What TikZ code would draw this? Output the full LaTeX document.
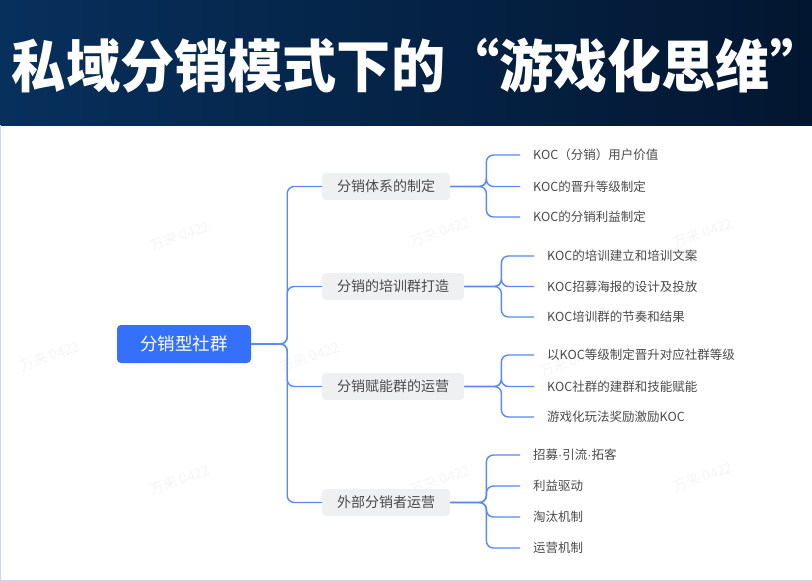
\documentclass[tikz,border=0pt]{standalone}
\usepackage{fontspec}
\setmainfont{Noto Sans CJK SC}
\newfontfamily\latinfont{Liberation Sans}
\usepackage{tikz}
\usetikzlibrary{calc}
\usetikzlibrary{positioning}

\definecolor{hdrA}{HTML}{07305C}
\definecolor{hdrB}{HTML}{031630}
\definecolor{rootblue}{HTML}{3470FA}
\definecolor{linkblue}{HTML}{5889F5}
\definecolor{topicgray}{HTML}{EEF0F2}
\definecolor{txtgray}{HTML}{4A4A4A}
\definecolor{edgeblue}{HTML}{C9DAF3}

\tikzset{
  rootbox/.style={fill=rootblue,text=white,rounded corners=4pt,minimum width=134pt,minimum height=38pt,font=\fontsize{17.5}{20}\selectfont},
  topicbox/.style={fill=topicgray,text=txtgray,rounded corners=4pt,minimum height=27pt,inner xsep=15pt,font=\fontsize{14}{16}\selectfont},
  leaf/.style={anchor=west,inner sep=0pt,text=txtgray,font=\fontsize{12.5}{14}\selectfont},
  link/.style={draw=linkblue,line width=1.4pt,rounded corners=7pt},
  wmark/.style={text=black!4,rotate=20,font=\fontsize{14}{16}\selectfont}
}

\begin{document}
\begin{tikzpicture}[x=1pt,y=-1pt]
  \useasboundingbox (0,0) rectangle (812,581);
  % header band
  \shade[left color=hdrA,right color=hdrB] (0,0) rectangle (812,125);
  \node[text=white,inner sep=0pt,xscale=0.95,font=\bfseries\fontsize{57}{60}\selectfont] (title) at (410,66) {私域分销模式下的“游戏化思维”\kern-0.3em};
  \draw[edgeblue,line width=1pt] (0.5,125) -- (0.5,580.5) -- (811.5,580.5);

  % watermarks
  \foreach \wx/\wy in {180/236,440/232,703/233,50/356,310/357,570/362,180/480,440/480,703/477}
    \node[wmark] at (\wx,\wy) {万来 0422};

  % root and topics
  \node[rootbox] (root) at (184,344) {分销型社群};
  \node[topicbox,anchor=west] (tx) at (322,186.5) {分销体系的制定};
  \node[topicbox,anchor=west] (px) at (322,286.5) {分销的培训群打造};
  \node[topicbox,anchor=west] (fn) at (322,386.5) {分销赋能群的运营};
  \node[topicbox,anchor=west] (wb) at (322,502.5) {外部分销者运营};

  \foreach \t in {tx,px,fn,wb}
    \draw[link] (root.east) -- ++(36,0) |- (\t.west);

  % leaves of each topic
  \node[leaf] (tx1) at (533,155) {KOC（分销）用户价值};
  \node[leaf] (tx2) at (533,186.5) {KOC的晋升等级制定};
  \node[leaf] (tx3) at (533,217) {KOC的分销利益制定};

  \node[leaf] (px1) at (547,256) {KOC的培训建立和培训文案};
  \node[leaf] (px2) at (547,286.5) {KOC招募海报的设计及投放};
  \node[leaf] (px3) at (547,317) {KOC培训群的节奏和结果};

  \node[leaf] (fn1) at (547,355) {以KOC等级制定晋升对应社群等级};
  \node[leaf] (fn2) at (547,386.5) {KOC社群的建群和技能赋能};
  \node[leaf] (fn3) at (547,417) {游戏化玩法奖励激励KOC};

  \node[leaf] (wb1) at (533,455) {招募{\latinfont·}引流{\latinfont·}拓客};
  \node[leaf] (wb2) at (533,486) {利益驱动};
  \node[leaf] (wb3) at (533,517) {淘汰机制};
  \node[leaf] (wb4) at (533,548) {运营机制};

  \foreach \c in {tx1,tx2,tx3}
    \draw[link] (tx.east) -- ++(36,0) |- ([xshift=-13pt]\c.west);
  \foreach \c in {px1,px2,px3}
    \draw[link] (px.east) -- ++(37,0) |- ([xshift=-13pt]\c.west);
  \foreach \c in {fn1,fn2,fn3}
    \draw[link] (fn.east) -- ++(37,0) |- ([xshift=-13pt]\c.west);
  \foreach \c in {wb1,wb2,wb3,wb4}
    \draw[link] (wb.east) -- ++(36,0) |- ([xshift=-13pt]\c.west);
\end{tikzpicture}
\end{document}
